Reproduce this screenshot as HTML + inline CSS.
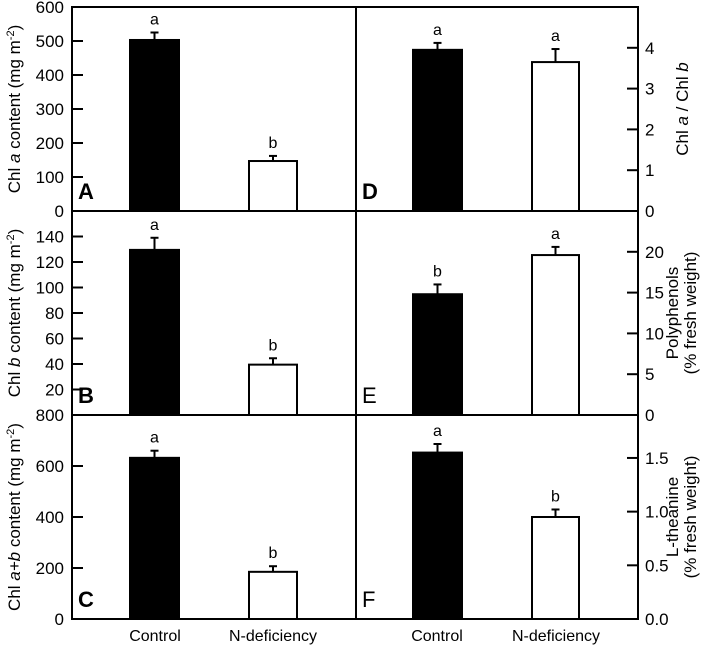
<!DOCTYPE html>
<html><head><meta charset="utf-8"><style>
body{margin:0;background:#fff}
svg{display:block;font-family:"Liberation Sans",Arial,sans-serif}
</style></head><body>
<svg id="c" width="708" height="646" viewBox="0 0 708 646"></svg>
<script>
const categories = ["Control","N-deficiency"];
const chlA = [503,147], chlAErr = [22,15], chlAMax = 600, chlATicks = [0,100,200,300,400,500,600];
const chlB = [129.5,39.5], chlBErr = [9.5,5], chlBMax = 160, chlBTicks = [20,40,60,80,100,120,140];
const chlAB = [632,185], chlABErr = [28,22], chlABMax = 800, chlABTicks = [0,200,400,600,800];
const ratio = [3.95,3.65], ratioErr = [0.17,0.32], ratioMax = 5, ratioTicks = [0,1,2,3,4];
const poly = [14.8,19.6], polyErr = [1.2,1.0], polyMax = 25, polyTicks = [0,5,10,15,20];
const thea = [1.55,0.95], theaErr = [0.08,0.07], theaMax = 1.9, theaTicks = ["0.0","0.5","1.0","1.5"];
const sigA=["a","b"], sigB=["a","b"], sigC=["a","b"], sigD=["a","a"], sigE=["b","a"], sigF=["a","b"];

const svg=document.getElementById('c');
const NS='http://www.w3.org/2000/svg';
function mk(tag,attrs,parent){const e=document.createElementNS(NS,tag);for(const k in attrs)e.setAttribute(k,attrs[k]);(parent||svg).appendChild(e);return e;}
const L=72,M=356,R=638;
const rows=[[7,211],[211,415],[415,619]];
const barL=[[130,179],[249,297]], barR=[[413,462],[532,579]];

function panel(opts){
  const g=mk('g',{});
  
  
  const [top,bot]=rows[opts.row];
  const y=v=>bot-(v/opts.max)*(bot-top);
  const ax=opts.side==='L'?L:R;
  const dir=opts.side==='L'?1:-1;
  opts.ticks.forEach(t=>{
    const v=parseFloat(t), yy=y(v);
    if(v>0) { const tk=mk('line',{x1:ax,x2:ax+dir*11,y1:yy,y2:yy,stroke:'#000','stroke-width':2},g);
        }
    const tx=mk('text',{x:opts.side==='L'?64:645,y:yy+6,'font-size':17,'text-anchor':opts.side==='L'?'end':'start'},g);
    tx.textContent=t;
    
    
  });
  const bars=opts.side==='L'?barL:barR;
  opts.vals.forEach((v,i)=>{
    const [x0,x1]=bars[i], cx=(x0+x1)/2, yt=y(v), ye=y(v+opts.err[i]);
    const e=mk('line',{x1:cx,x2:cx,y1:yt,y2:ye,stroke:'#000','stroke-width':2},g);
     
    const cap=mk('line',{x1:cx-4,x2:cx+4,y1:ye,y2:ye,stroke:'#000','stroke-width':2},g);
     
    const b=mk('rect',{x:x0,y:yt,width:x1-x0,height:bot-yt,fill:i===0?'#000':'#fff',stroke:'#000','stroke-width':2},g);
    
    
    const s=mk('text',{x:cx,y:ye-8,'font-size':16,'text-anchor':'middle'},g);
    s.textContent=opts.sig[i];
    
    
  });
  const pl=mk('text',{x:opts.side==='L'?78:362,y:bot-12,'font-size':22,'font-weight':opts.bold?'bold':'normal'},g);
  pl.textContent=opts.letter;
  
  
}
panel({row:0,side:'L',letter:'A',vals:chlA,err:chlAErr,max:chlAMax,ticks:chlATicks.map(String),sig:sigA,bold:true});
panel({row:1,side:'L',letter:'B',vals:chlB,err:chlBErr,max:chlBMax,ticks:chlBTicks.map(String),sig:sigB,bold:true});
panel({row:2,side:'L',letter:'C',vals:chlAB,err:chlABErr,max:chlABMax,ticks:chlABTicks.map(String),sig:sigC,bold:true});
panel({row:0,side:'R',letter:'D',vals:ratio,err:ratioErr,max:ratioMax,ticks:ratioTicks.map(String),sig:sigD,bold:true});
panel({row:1,side:'R',letter:'E',vals:poly,err:polyErr,max:polyMax,ticks:polyTicks.map(String),sig:sigE,bold:false});
panel({row:2,side:'R',letter:'F',vals:thea,err:theaErr,max:theaMax,ticks:theaTicks,sig:sigF,bold:false});

const fr=mk('rect',{x:L,y:7,width:R-L,height:612,fill:'none',stroke:'#000','stroke-width':2});
 
[[M,7,M,619],[L,211,R,211],[L,415,R,415]].forEach(a=>{
  const l=mk('line',{x1:a[0],y1:a[1],x2:a[2],y2:a[3],stroke:'#000','stroke-width':2});
   
});
[[155,273],[437,556]].forEach(p=>{
  categories.forEach((c,i)=>{
    const t=mk('text',{x:p[i],y:641,'font-size':16,'text-anchor':'middle'});
    t.textContent=c;
    
    
  });
});
</script>
<div style="position:absolute;left:0;top:0;width:708px;height:646px;pointer-events:none">
<svg width="708" height="646" style="position:absolute;left:0;top:0">
<g font-family="Liberation Sans, Arial, sans-serif" font-size="17">
<text transform="translate(20,109) rotate(-90)" text-anchor="middle">Chl <tspan font-style="italic">a</tspan> content (mg m<tspan dy="-6" font-size="11">-2</tspan><tspan dy="6">)</tspan></text>
<text transform="translate(20,313) rotate(-90)" text-anchor="middle">Chl <tspan font-style="italic">b</tspan> content (mg m<tspan dy="-6" font-size="11">-2</tspan><tspan dy="6">)</tspan></text>
<text transform="translate(20,517) rotate(-90)" text-anchor="middle">Chl <tspan font-style="italic">a+b</tspan> content (mg m<tspan dy="-6" font-size="11">-2</tspan><tspan dy="6">)</tspan></text>
<text transform="translate(688,109) rotate(-90)" text-anchor="middle">Chl <tspan font-style="italic">a</tspan> / Chl <tspan font-style="italic">b</tspan></text>
<text transform="translate(678,313) rotate(-90)" text-anchor="middle">Polyphenols</text>
<text transform="translate(696,313) rotate(-90)" text-anchor="middle">(% fresh weight)</text>
<text transform="translate(678,517) rotate(-90)" text-anchor="middle">L-theanine</text>
<text transform="translate(696,517) rotate(-90)" text-anchor="middle">(% fresh weight)</text>
</g></svg></div>
</body></html>
